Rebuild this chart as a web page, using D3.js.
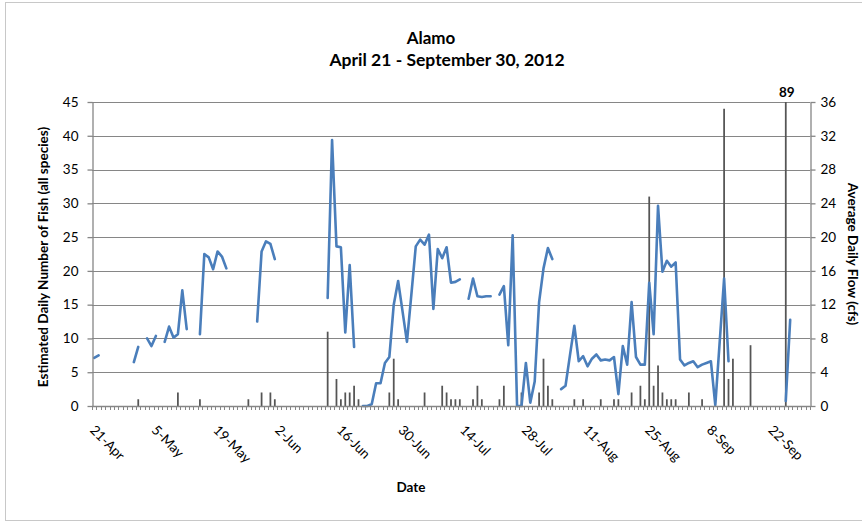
<!DOCTYPE html>
<html><head><meta charset="utf-8">
<script src="https://cdn.jsdelivr.net/npm/d3@7"></script>
<style>
body{margin:0;background:#fff}
svg{display:block}
text{font-family:Lato,"Open Sans",sans-serif;fill:#000}
</style>
</head><body>
<svg id="c" width="862" height="525"></svg>
<script>
// ---- data ----
const firstDay = new Date(2012, 3, 21), dayAfterLast = new Date(2012, 9, 1);
const dates = d3.timeDay.range(firstDay, dayAfterLast); // 21-Apr .. 30-Sep (163 days)
const tickLabels = ["21-Apr","5-May","19-May","2-Jun","16-Jun","30-Jun","14-Jul","28-Jul","11-Aug","25-Aug","8-Sep","22-Sep"];
const leftTicks = [0,5,10,15,20,25,30,35,40,45];
const rightTicks = [0,4,8,12,16,20,24,28,32,36];
const title = "Alamo";
const subtitle = "April 21 - September 30, 2012";
const leftTitle = "Estimated Daily Number of Fish (all species)";
const rightTitle = "Average Daily Flow (cfs)";
const xTitle = "Date";

// Estimated daily number of fish (left axis), one value per day
const fishCounts = [
  0,0,0,0,0,0,0,0,0,0,   1,0,0,0,0,0,0,0,0,2,
  0,0,0,0,1,0,0,0,0,0,   0,0,0,0,0,1,0,0,2,0,
  2,1,0,0,0,0,0,0,0,0,   0,0,0,11,0,4,1,2,2,3,
  1,0,0,0,0,0,0,2,7,1,   0,0,0,0,0,2,0,0,0,3,
  2,1,1,1,0,0,1,3,1,0,   0,0,1,3,0,0,0,2,0,0,
  0,2,7,3,1,0,0,0,0,1,   0,1,0,0,0,1,0,0,1,1,
  0,0,2,0,3,1,31,3,6,2,  1,1,1,0,0,2,0,0,1,0,
  0,0,0,44,4,7,0,0,0,9,  0,0,0,0,0,0,0,89,0,0,
  0,0,0
];
// Average daily flow in cfs (right axis), null = no record
const flowCfs = [
  5.7,6.0,null,null,null,null,null,null,null,5.2,
  7.0,null,8.0,7.1,8.3,null,7.6,9.4,8.1,8.5,
  13.7,9.1,null,null,8.5,18.0,17.6,16.2,18.3,17.7,
  16.3,null,null,null,null,null,null,10.0,18.3,19.5,
  19.2,17.4,null,null,null,null,null,null,null,null,
  null,null,null,12.8,31.5,18.9,18.8,8.7,16.7,7.0,
  null,0,0,0.2,2.7,2.7,5.1,5.8,12.0,14.8,
  11.2,7.6,13.2,18.9,19.7,19.1,20.3,11.5,18.6,17.5,
  18.8,14.6,14.7,15.0,null,12.7,15.1,13.0,12.9,13.0,
  13.0,null,13.2,14.2,7.2,20.2,0,0,5.1,0.4,
  2.9,12.3,16.3,18.7,17.4,null,2.0,2.4,6.0,9.5,
  5.3,5.9,4.7,5.6,6.1,5.4,5.5,5.4,5.8,1.4,
  7.1,4.9,12.3,5.8,4.9,4.9,14.6,8.5,23.7,15.9,
  17.2,16.5,17.0,5.5,4.8,5.1,5.3,4.6,4.9,5.1,
  5.3,0.1,7.6,15.1,5.3,null,null,null,null,null,
  null,null,null,null,null,null,null,0.6,10.2,null,
  null,null,null
];

// ---- chart ----
const plot = {l:92, r:810, t:102, b:406};
const svg = d3.select("#c");
const fmt = d3.timeFormat("%-d-%b");
const cats = dates.map(fmt);
const rows = cats.map((c,i)=>({c, fish:fishCounts[i], flow:flowCfs[i]}));

svg.append("rect").attr("x",5.5).attr("y",2.5).attr("width",900).attr("height",518)
  .attr("fill","none").attr("stroke","#c8c8c8");

const x = d3.scaleBand().domain(cats).range([plot.l, plot.r]).paddingInner(0.6).paddingOuter(0.3);
const yL = d3.scaleLinear().domain([0,45]).range([plot.b, plot.t]);
const yR = d3.scaleLinear().domain([0,36]).range([plot.b, plot.t]);
const cx = c => x(c) + x.bandwidth()/2;
const gridCol = "#868686";

// gridlines
svg.append("g").selectAll("line").data(leftTicks.filter(t=>t>0)).join("line")
  .attr("x1",plot.l).attr("x2",plot.r)
  .attr("y1",d=>Math.round(yL(d))+0.5).attr("y2",d=>Math.round(yL(d))+0.5)
  .attr("stroke",gridCol).attr("stroke-width",1);

// bars (fish)
svg.append("g").selectAll("rect").data(rows.filter(d=>d.fish>0)).join("rect")
  .attr("x",d=>x(d.c)).attr("width",x.bandwidth())
  .attr("y",d=>yL(Math.min(d.fish,45)))
  .attr("height",d=>plot.b - yL(Math.min(d.fish,45)))
  .attr("fill","#555555");

// label for off-scale bar
rows.filter(d=>d.fish>45).forEach(d=>{
  svg.append("text").attr("x",cx(d.c)+1).attr("y",97).attr("text-anchor","middle")
    .attr("font-size",13.5).attr("font-weight","bold").text(d.fish);
});

// flow line
const line = d3.line().defined(d=>d.flow!=null).x(d=>cx(d.c)).y(d=>yR(d.flow));
svg.append("path").datum(rows).attr("d",line).attr("fill","none")
  .attr("stroke","#4A7EBB").attr("stroke-width",2.6)
  .attr("stroke-linejoin","round").attr("stroke-linecap","round");

// left axis
const axL = svg.append("g").attr("transform",`translate(${plot.l+0.5},0)`)
  .call(d3.axisLeft(yL).tickValues(leftTicks).tickSize(5).tickSizeOuter(0).tickPadding(9));
// right axis
const axR = svg.append("g").attr("transform",`translate(${plot.r+0.5},0)`)
  .call(d3.axisRight(yR).tickValues(rightTicks).tickSize(5).tickSizeOuter(0).tickPadding(5));
[axL,axR].forEach(a=>{
  a.selectAll("path,line").attr("stroke",gridCol).attr("stroke-width",1.3);
  a.selectAll("text").attr("font-size",13.5).attr("font-family","Lato, 'Open Sans', sans-serif").attr("fill","#000");
});

// x axis
const step = x.step();
const bounds = cats.map(c => x(c) - step*0.3).concat([plot.r]);
const axX = svg.append("g");
axX.append("line").attr("x1",plot.l).attr("x2",plot.r).attr("y1",plot.b+0.5).attr("y2",plot.b+0.5)
  .attr("stroke",gridCol).attr("stroke-width",1.3);
axX.selectAll("line.t").data(bounds).join("line").attr("class","t")
  .attr("x1",d=>Math.round(d)+0.5).attr("x2",d=>Math.round(d)+0.5)
  .attr("y1",plot.b).attr("y2",plot.b+4).attr("stroke",gridCol).attr("stroke-width",1);
axX.selectAll("text").data(tickLabels).join("text")
  .attr("transform",d=>`translate(${cx(d)-5},431) rotate(45)`)
  .attr("font-size",13.5).text(d=>d);

// titles
svg.append("text").attr("x",431).attr("y",44).attr("text-anchor","middle")
  .attr("font-size",17).attr("font-weight","bold").text(title);
svg.append("text").attr("x",447).attr("y",66).attr("text-anchor","middle")
  .attr("font-size",17.5).attr("font-weight","bold").text(subtitle);
svg.append("text").attr("transform",`translate(48,257) rotate(-90)`).attr("text-anchor","middle")
  .attr("font-size",13.5).attr("font-weight","bold").text(leftTitle);
svg.append("text").attr("transform",`translate(848,254) rotate(90)`).attr("text-anchor","middle")
  .attr("font-size",13.5).attr("font-weight","bold").text(rightTitle);
svg.append("text").attr("x",411).attr("y",492).attr("text-anchor","middle")
  .attr("font-size",13.5).attr("font-weight","bold").text(xTitle);
</script>
</body></html>
